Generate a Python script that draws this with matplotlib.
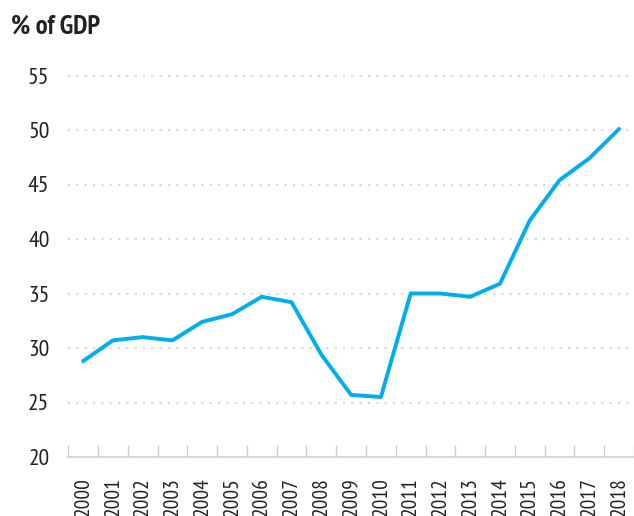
import numpy as np
import matplotlib.pyplot as plt

plt.rcParams['font.family'] = ['PT Sans Narrow', 'DejaVu Sans']

years = ['2000', '2001', '2002', '2003', '2004', '2005', '2006', '2007', '2008', '2009',
         '2010', '2011', '2012', '2013', '2014', '2015', '2016', '2017', '2018']
debt = [28.8, 30.7, 31.0, 30.7, 32.4, 33.1, 34.7, 34.2, 29.4, 25.7,
        25.5, 35.0, 35.0, 34.7, 35.9, 41.7, 45.4, 47.4, 50.1]
y_ticks = [20, 25, 30, 35, 40, 45, 50, 55]

W, H = 634, 516
fig = plt.figure(figsize=(W / 100, H / 100), dpi=100)
left, right, bottom, top = 68.2, 634, 457, 75.5
ax = fig.add_axes([left / W, (H - bottom) / H, (right - left) / W, (bottom - top) / H])

x = np.arange(len(years))
ax.plot(x, debt, color='#00aeef', lw=2.8, solid_capstyle='round', solid_joinstyle='round', zorder=3)

# dotted gridlines (none on the baseline)
for v in y_ticks[1:]:
    ax.axhline(v, color='#d6d6d6', lw=1.5, ls=(0, (1, 3)), clip_on=False, zorder=1)

ax.set_ylim(20, 55)
ax.set_xlim(-0.5, -0.5 + (right - left) / 30.28)
ax.set_yticks(y_ticks)
ax.set_yticklabels([str(v) for v in y_ticks], fontsize=17, color='#222222')
ax.tick_params(axis='y', length=0, pad=13.5)

# category boundaries as ticks, labels centred in each band
ax.set_xticks(np.arange(len(years) + 1) - 0.5)
ax.set_xticklabels([])
ax.set_xticks(x, minor=True)
ax.set_xticklabels(years, minor=True, rotation=90, fontsize=15.5, color='#222222')
ax.tick_params(axis='x', which='major', direction='in', length=8.6, width=1, color='#cfcfcf')
ax.tick_params(axis='x', which='minor', length=0, pad=14)

for s in ['top', 'right', 'left']:
    ax.spines[s].set_visible(False)
ax.spines['bottom'].set_color('#cfcfcf')
ax.spines['bottom'].set_linewidth(1.2)

title = fig.text(11 / W, 1 - 27 / H, '% of GDP', fontsize=16, fontweight='bold',
                 va='center', ha='left', color='#222222')

# nudge year labels so they start ~20px under the axis, and size the title to its width
fig.canvas.draw()
bb = ax.xaxis.get_minorticklabels()[0].get_window_extent()
shift = bb.y1 - (H - 477)
ax.tick_params(axis='x', which='minor', pad=14 + shift * 72 / 100)
tw = title.get_window_extent().width
title.set_fontsize(16 * 89 / tw)

fig.savefig('out.png', dpi=100)
